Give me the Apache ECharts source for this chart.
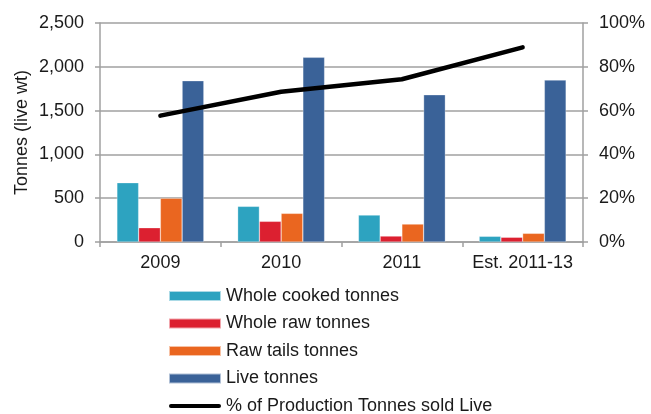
<!DOCTYPE html>
<html><head><meta charset="utf-8">
<script src="https://cdn.jsdelivr.net/npm/echarts@6/dist/echarts.min.js"></script>
<style>html,body{margin:0;padding:0;background:#fff}#c{width:651px;height:414px}</style>
</head><body><div id="c"></div>
<script>
var categories = ['2009', '2010', '2011', 'Est. 2011-13'];
var wholeCooked = [677, 407, 308, 65];
var wholeRaw = [163, 236, 68, 54];
var rawTails = [499, 327, 205, 99];
var live = [1841, 2108, 1681, 1849];
var pctLive = [57.7, 68.6, 74.3, 88.9];
var leftTicks = [0, 500, 1000, 1500, 2000, 2500];
var rightTicks = [0, 20, 40, 60, 80, 100];

var font = 'Liberation Sans, Arial, sans-serif';
var txt = '#1a1a1a';
var gridColor = '#a0a0a0';
var fs = 18;
function barSeries(name, data, color) {
  return {name: name, type: 'bar', data: data, barGap: '0%', barCategoryGap: '28%',
    itemStyle: {color: color, borderColor: 'rgba(255,255,255,0.6)', borderWidth: 0.5}};
}
var chart = echarts.init(document.getElementById('c'), null, {renderer: 'canvas'});
chart.setOption({
  animation: false,
  textStyle: {fontFamily: font},
  grid: {left: 100, right: 68, top: 23, bottom: 172},
  legend: {
    orient: 'vertical', left: 168, top: 287, padding: 0, height: 160,
    itemWidth: 52, itemHeight: 10, itemGap: 9.5,
    textStyle: {fontSize: fs, color: txt, fontFamily: font},
    data: [
      {name: 'Whole cooked tonnes', icon: 'rect'},
      {name: 'Whole raw tonnes', icon: 'rect'},
      {name: 'Raw tails tonnes', icon: 'rect'},
      {name: 'Live tonnes', icon: 'rect'},
      {name: '% of Production Tonnes sold Live',
       icon: 'path://M2,0 L50,0 A2,2 0 0 1 50,4 L2,4 A2,2 0 0 1 2,0 Z'}
    ]
  },
  xAxis: {
    type: 'category', data: categories,
    axisLine: {lineStyle: {color: gridColor, width: 1.5}},
    axisTick: {show: true, length: 5, lineStyle: {color: gridColor, width: 1.5}},
    axisLabel: {fontSize: fs, color: txt, margin: 12, fontFamily: font, interval: 0}
  },
  yAxis: [
    {type: 'value', min: 0, max: 2500, interval: 500, position: 'left',
     name: 'Tonnes (live wt)', nameLocation: 'middle', nameGap: 69, nameRotate: 90,
     nameMoveOverlap: false,
     nameTextStyle: {fontSize: fs, color: txt, fontFamily: font},
     axisLine: {show: true, lineStyle: {color: gridColor, width: 1.5}},
     axisTick: {show: true, length: 5, lineStyle: {color: gridColor, width: 1.5}},
     splitLine: {lineStyle: {color: gridColor, width: 1.5}},
     axisLabel: {fontSize: fs, color: txt, margin: 16, fontFamily: font,
       formatter: function (v) { return leftTicks.indexOf(v) >= 0 ? v.toLocaleString('en-US') : ''; }}
    },
    {type: 'value', min: 0, max: 100, interval: 20, position: 'right',
     axisLine: {show: true, lineStyle: {color: gridColor, width: 1.5}},
     axisTick: {show: true, length: 5, lineStyle: {color: gridColor, width: 1.5}},
     splitLine: {show: false},
     axisLabel: {fontSize: fs, color: txt, margin: 16, fontFamily: font,
       formatter: function (v) { return rightTicks.indexOf(v) >= 0 ? v + '%' : ''; }}
    }
  ],
  series: [
    barSeries('Whole cooked tonnes', wholeCooked, '#2DA3C0'),
    barSeries('Whole raw tonnes', wholeRaw, '#DC2030'),
    barSeries('Raw tails tonnes', rawTails, '#EA6620'),
    barSeries('Live tonnes', live, '#3A6298'),
    {name: '% of Production Tonnes sold Live', type: 'line', yAxisIndex: 1, data: pctLive,
     symbol: 'none', itemStyle: {color: '#000'},
     lineStyle: {color: '#000', width: 4.5, cap: 'round', join: 'round'}}
  ]
});
</script></body></html>
